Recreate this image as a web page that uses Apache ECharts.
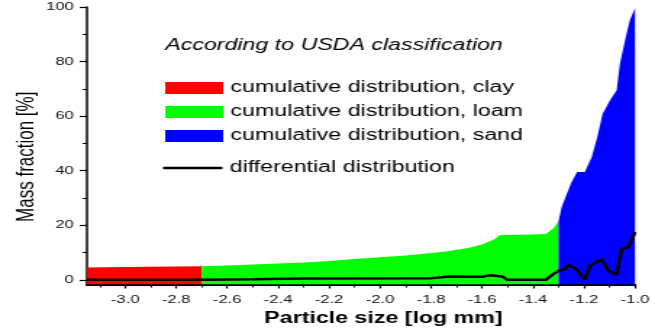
<!DOCTYPE html>
<html>
<head>
<meta charset="utf-8">
<script src="https://cdn.jsdelivr.net/npm/echarts@6/dist/echarts.min.js"></script>
<style>
  html, body { margin: 0; padding: 0; background: #fff; overflow: hidden; }
  #main { width: 452px; height: 329px; transform: scaleX(1.4491); transform-origin: 0 0; }
</style>
</head>
<body>
<div id="main"></div>
<script>
// ---- data ----
const clayX = [-3.15, -3.0, -2.9, -2.8, -2.7];
const clayY = [4.5, 4.7, 4.8, 4.9, 5.0];

const loamX = [-2.7, -2.6, -2.5, -2.4, -2.3, -2.2, -2.1, -2.0, -1.9, -1.8, -1.75, -1.7, -1.65, -1.6, -1.55, -1.53, -1.45, -1.4, -1.35, -1.32, -1.3];
const loamY = [5.0, 5.3, 5.6, 6.0, 6.4, 6.9, 7.6, 8.3, 8.9, 9.8, 10.3, 11.0, 11.8, 13.0, 15.0, 16.4, 16.5, 16.6, 16.8, 18.9, 21.5];

const sandX = [-1.3, -1.288, -1.268, -1.249, -1.227, -1.197, -1.17, -1.148, -1.127, -1.098, -1.072, -1.059, -1.033, -1.02, -1.0];
const sandY = [21.5, 26.6, 31.5, 35.8, 39.5, 39.5, 45.0, 52.3, 60.9, 65.8, 69.5, 79.3, 90.3, 95.2, 99.5];

const diffX = [-3.15, -2.7, -2.5, -2.3, -1.8, -1.73, -1.6, -1.59, -1.57, -1.52, -1.5, -1.35, -1.32, -1.3, -1.275, -1.262, -1.229, -1.197, -1.177, -1.131, -1.105, -1.072, -1.053, -1.027, -1.0];
const diffY = [0, 0, 0.2, 0.5, 0.6, 1.2, 1.1, 0.6, 1.7, 1.2, 0.0, 0.0, 2.2, 3.3, 3.9, 5.6, 3.8, 0.1, 5.2, 7.6, 3.4, 1.8, 11.4, 11.9, 17.5];

const xTickValues = [-3.0, -2.8, -2.6, -2.4, -2.2, -2.0, -1.8, -1.6, -1.4, -1.2, -1.0];
const xMinorTicks = [-3.1, -2.9, -2.7, -2.5, -2.3, -2.1, -1.9, -1.7, -1.5, -1.3, -1.1];
const yTickValues = [0, 20, 40, 60, 80, 100];
const yMinorTicks = [10, 30, 50, 70, 90];

const names = {
  clay: 'cumulative distribution, clay',
  loam: 'cumulative distribution, loam',
  sand: 'cumulative distribution, sand',
  diff: 'differential distribution'
};

const pairs = (xs, ys) => xs.map((x, i) => [x, ys[i]]);
const FONT = 'Liberation Sans';

function areaSeries(name, xs, ys, color) {
  return {
    name: name, type: 'line', xAxisIndex: 0, yAxisIndex: 0,
    data: pairs(xs, ys), symbol: 'none', showSymbol: false,
    color: color,
    itemStyle: { color: color },
    lineStyle: { width: 0, color: color },
    areaStyle: { color: color, opacity: 1, origin: 'start' },
    silent: true, z: 2
  };
}

const chart = echarts.init(document.getElementById('main'), null, { renderer: 'canvas' });
chart.setOption({
  animation: false,
  backgroundColor: '#fff',
  grid: { left: 60, right: 13.8, top: 7, bottom: 44.5, containLabel: false, outerBoundsMode: 'none' },
  title: {
    text: 'According to USDA classification',
    left: 114, top: 38, padding: 0,
    textStyle: { fontSize: 16, fontStyle: 'italic', fontWeight: 'normal', color: '#000', fontFamily: FONT }
  },
  legend: [
    {
      data: [
        { name: names.clay, icon: 'rect' },
        { name: names.loam, icon: 'rect' },
        { name: names.sand, icon: 'rect' }
      ],
      orient: 'vertical', left: 114, top: 80, padding: 0,
      itemWidth: 40, itemHeight: 12, itemGap: 8, selectedMode: false,
      textStyle: { fontSize: 16, lineHeight: 12, color: '#000', fontFamily: FONT }
    },
    {
      data: [{ name: names.diff, icon: 'rect', itemStyle: { color: '#000' } }],
      orient: 'vertical', left: 112.5, top: 160, padding: 0,
      itemWidth: 41, itemHeight: 2.6, selectedMode: false,
      textStyle: { fontSize: 16, lineHeight: 12, color: '#000', fontFamily: FONT }
    }
  ],
  xAxis: [
    {
      type: 'value', min: -3.15, max: -1.0, position: 'bottom',
      axisLine: { show: true, onZero: false, lineStyle: { color: '#000', width: 2 } },
      axisTick: { show: true, customValues: xTickValues, length: 4, lineStyle: { color: '#000', width: 1.2 } },
      axisLabel: { customValues: xTickValues, formatter: v => Number(v).toFixed(1), margin: 9, fontSize: 11.5, color: '#111', fontFamily: FONT },
      splitLine: { show: false },
      name: 'Particle size [log mm]', nameLocation: 'middle', nameGap: 23,
      nameTextStyle: { fontSize: 16, fontWeight: 'bold', color: '#000', fontFamily: FONT, padding: [0, 0, 0, 31] }
    },
    {
      type: 'value', min: -3.15, max: -1.0, position: 'bottom',
      axisLine: { show: false, onZero: false },
      axisTick: { show: true, customValues: xMinorTicks, length: 3, lineStyle: { color: '#000', width: 1 } },
      axisLabel: { show: false }, splitLine: { show: false }
    }
  ],
  yAxis: [
    {
      type: 'value', min: -1.7, max: 100, position: 'left',
      axisLine: { show: true, onZero: false, lineStyle: { color: '#000', width: 1.5 } },
      axisTick: { show: true, customValues: yTickValues, length: 5, lineStyle: { color: '#000', width: 1.2 } },
      axisLabel: { customValues: yTickValues, margin: 9, fontSize: 11.5, color: '#111', fontFamily: FONT },
      splitLine: { show: false },
      name: 'Mass fraction [%]', nameLocation: 'middle', nameGap: 33.5, nameMoveOverlap: false,
      nameTextStyle: { fontSize: 17, color: '#000', fontFamily: FONT, padding: [0, 22, 0, 0] }
    },
    {
      type: 'value', min: -1.7, max: 100, position: 'left',
      axisLine: { show: false, onZero: false },
      axisTick: { show: true, customValues: yMinorTicks, length: 3, lineStyle: { color: '#000', width: 1 } },
      axisLabel: { show: false }, splitLine: { show: false }
    }
  ],
  series: [
    areaSeries(names.clay, clayX, clayY, '#ff0000'),
    areaSeries(names.loam, loamX, loamY, '#00ff00'),
    areaSeries(names.sand, sandX, sandY, '#0000ff'),
    {
      name: names.diff, type: 'line', xAxisIndex: 0, yAxisIndex: 0,
      data: pairs(diffX, diffY), symbol: 'none', showSymbol: false,
      color: '#000',
      lineStyle: { color: '#000', width: 2.5 },
      silent: true, z: 5
    }
  ]
});
</script>
</body>
</html>
